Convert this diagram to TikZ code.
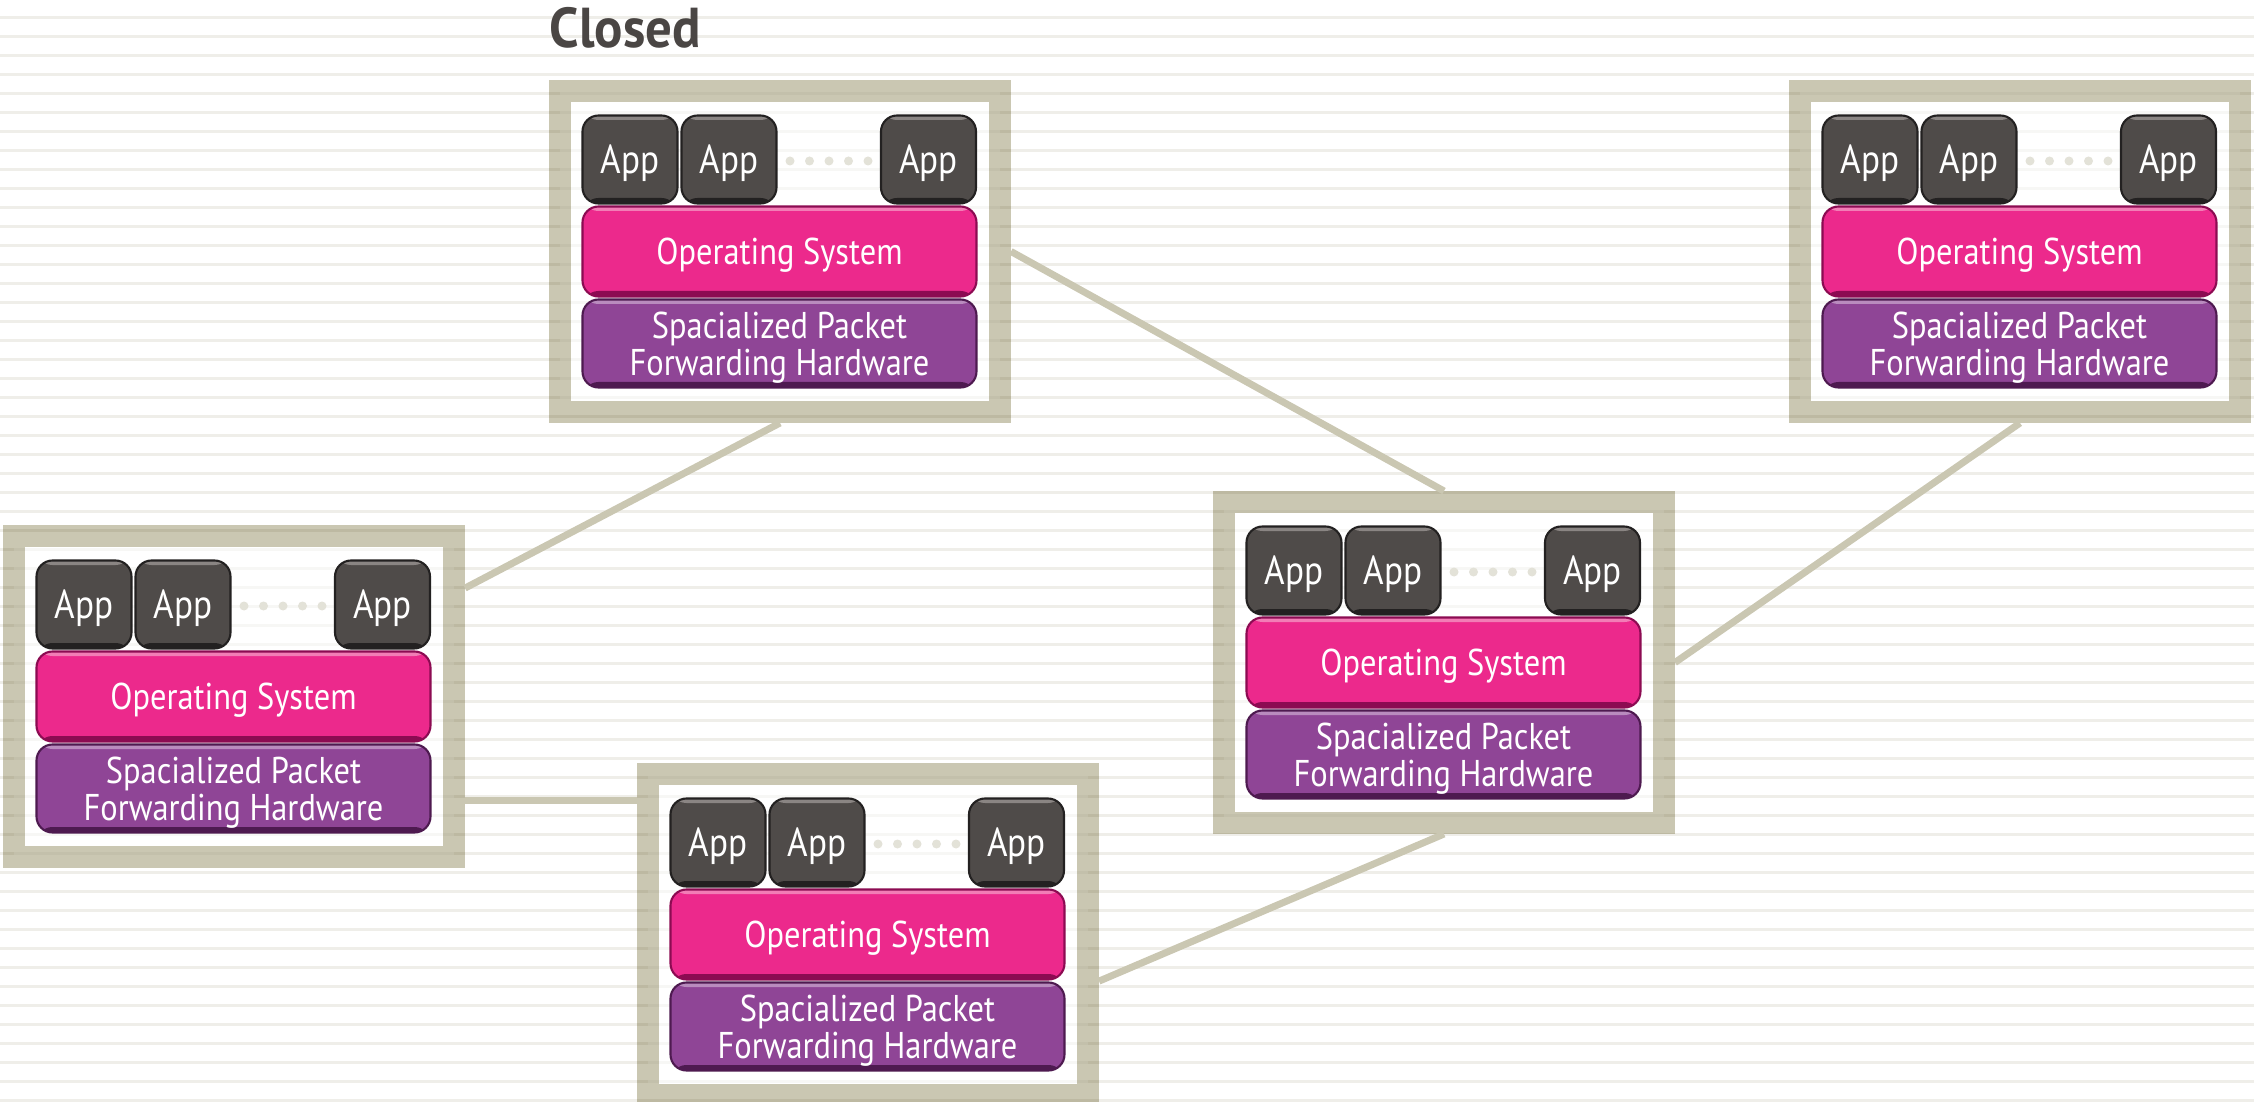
\documentclass[tikz,border=0pt]{standalone}
\usepackage{fontspec}
\setmainfont{PT Sans}[FakeStretch=0.87]
\newfontfamily\titlefont{PT Sans}[FakeStretch=0.94]
\usetikzlibrary{calc}
\definecolor{stripe}{HTML}{EFEEE9}
\definecolor{framec}{HTML}{CAC7B2}
\definecolor{appfill}{HTML}{4F4B49}
\definecolor{appedge}{HTML}{232121}
\definecolor{apphi}{HTML}{8A8583}
\definecolor{osfill}{HTML}{EC298C}
\definecolor{osedge}{HTML}{8C0B52}
\definecolor{oshi}{HTML}{F27DB6}
\definecolor{hwfill}{HTML}{8F4596}
\definecolor{hwedge}{HTML}{4E1A50}
\definecolor{hwhi}{HTML}{B98BBE}
\definecolor{dotc}{HTML}{E3E2D8}
\definecolor{titlec}{HTML}{4A4644}
\tikzset{
  frame/.style={draw=framec, line width=2.2mm, minimum width=44mm,
    minimum height=32.1mm, inner sep=0pt},
  bevel/.style 2 args={path picture={
    \fill[#1] (path picture bounding box.north west) rectangle
      ([yshift=-0.45mm]path picture bounding box.north east);
    \fill[#2] (path picture bounding box.south west) rectangle
      ([yshift=0.55mm]path picture bounding box.south east);}},
  app/.style={fill=appfill, draw=appedge, line width=0.6pt, rounded corners=1.6mm,
    minimum width=9.5mm, minimum height=8.8mm, inner sep=0pt, text=white,
    text depth=0pt, bevel={apphi}{appedge}, font=\fontsize{11.5}{11.5}\selectfont},
  layer/.style={rounded corners=1.6mm, minimum width=39.4mm, inner sep=0pt,
    text=white, align=center, line width=0.6pt, text depth=0pt,
    font=\fontsize{10.6}{9.4}\selectfont},
  os/.style={layer, minimum height=9mm, fill=osfill, draw=osedge, bevel={oshi}{osedge}},
  hw/.style={layer, minimum height=8.8mm, fill=hwfill, draw=hwedge, bevel={hwhi}{hwedge}},
  link/.style={draw=framec, line width=0.7mm},
}
\newcommand\stackbox[3]{
  \fill[white, fill opacity=.55] (#2+11,#3+11) rectangle ++(440,321);
  \begin{scope}[blend mode=multiply]
    \node[frame] (#1) at (#2+231,#3+171.5) {};
  \end{scope}
  \foreach \i in {0,...,4}
    \fill[dotc] (#2+241+19.5*\i,#3+81) circle (4.5);
  \node[app] (#1a1) at (#2+81,#3+79.5) {App};
  \node[app] (#1a2) at (#2+180,#3+79.5) {App};
  \node[app] (#1a3) at (#2+379.5,#3+79.5) {App};
  \node[os] (#1os) at (#2+230.5,#3+171.5) {Operating System};
  \node[hw] (#1hw) at (#2+230.5,#3+263.5) {Spacialized Packet\\Forwarding Hardware};
}
\begin{document}
\begin{tikzpicture}[x=0.1mm,y=-0.1mm]
  \useasboundingbox (0,0) rectangle (2254,1102);
  \clip (0,0) rectangle (2254,1102);
  \foreach \k in {0,...,57}
    \fill[stripe] (0,16+19*\k) rectangle (2254,18.8+19*\k);
  \node[anchor=base west, inner sep=0pt, text=titlec,
    font=\titlefont\bfseries\fontsize{16}{16}\selectfont] (title) at (549,48) {Closed};
  \stackbox{A}{549}{80}
  \stackbox{B}{3}{525}
  \stackbox{C}{637}{763}
  \stackbox{D}{1213}{491}
  \stackbox{E}{1789}{80}
  \draw[link] (A.south) -- ($(B.north east)!.184!(B.south east)$);
  \draw[link] (A.east) -- (D.north);
  \draw[link] ($(C.north west)!.11!(C.south west)$) coordinate (cw) -- (cw -| B.east);
  \draw[link] ($(C.north east)!.636!(C.south east)$) -- (D.south);
  \draw[link] (D.east) -- (E.south);
\end{tikzpicture}
\end{document}
